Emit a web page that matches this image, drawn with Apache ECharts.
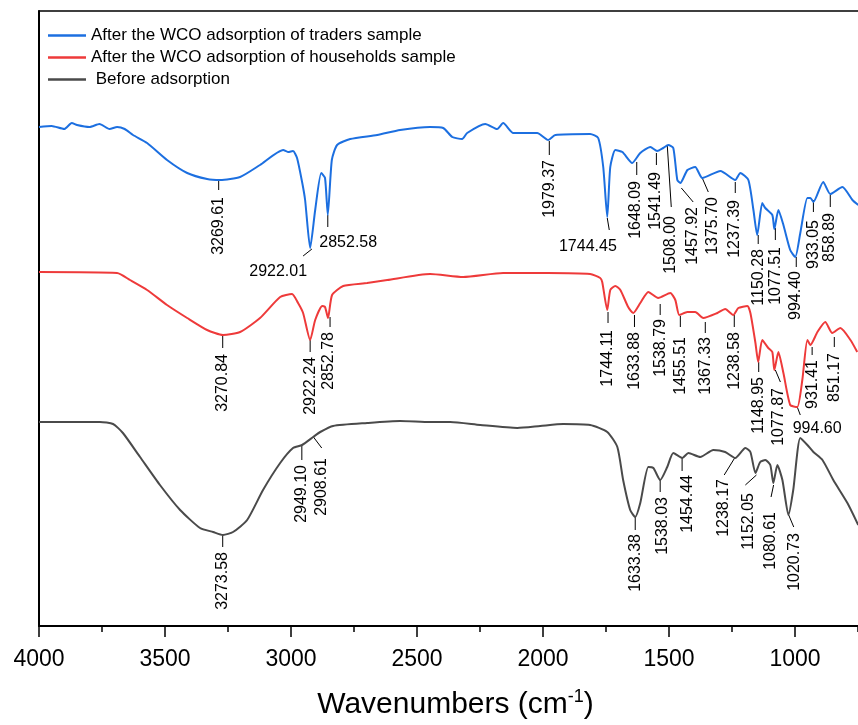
<!DOCTYPE html>
<html>
<head>
<meta charset="utf-8">
<script src="https://cdn.jsdelivr.net/npm/echarts@6/dist/echarts.min.js"></script>
<style>
  html, body { margin: 0; padding: 0; background: #fff; }
  #chart { width: 858px; height: 725px; }
</style>
</head>
<body>
<div id="chart"></div>
<script>
// spectra: [wavenumber, offset transmittance (a.u.)]
const tradersSpectrum = [
  [4000, 499], [3950, 500], [3900, 497], [3870, 503], [3849, 501], [3800, 499], [3760, 502], [3720, 497],
  [3690, 499], [3660, 497], [3627, 491], [3571, 483], [3492, 466], [3412, 453], [3333, 447], [3281, 446],
  [3202, 449], [3123, 461], [3031, 476], [3012, 474], [2992, 475], [2976, 468], [2956, 444], [2944, 426],
  [2924, 378], [2904, 416], [2880, 453], [2865, 448], [2854, 411], [2838, 466], [2817, 481], [2765, 487],
  [2658, 491], [2567, 496], [2448, 499], [2396, 498], [2360, 489], [2321, 487], [2301, 493], [2229, 502],
  [2182, 497], [2158, 503], [2118, 493], [2023, 493], [1979, 486], [1951, 491], [1813, 492], [1781, 488],
  [1761, 459], [1745, 409], [1733, 459], [1713, 476], [1685, 474], [1646, 463], [1614, 473], [1574, 479],
  [1547, 475], [1523, 478], [1503, 481], [1483, 478], [1467, 446], [1455, 443], [1427, 456], [1396, 459],
  [1368, 448], [1296, 455], [1237, 446], [1217, 453], [1185, 446], [1165, 416], [1150, 391], [1130, 423],
  [1118, 418], [1090, 411], [1082, 397], [1066, 416], [1046, 401], [1019, 376], [999, 369], [979, 393],
  [951, 428], [939, 428], [927, 424], [888, 444], [860, 432], [812, 439], [772, 426], [749, 421]
];
const householdsSpectrum = [
  [4000, 354], [3690, 353], [3639, 346], [3571, 336], [3492, 321], [3412, 308], [3333, 296], [3270, 291],
  [3202, 294], [3123, 308], [3043, 329], [2996, 332], [2972, 323], [2952, 313], [2924, 286], [2904, 306],
  [2876, 320], [2865, 319], [2853, 308], [2837, 331], [2793, 340], [2698, 343], [2618, 346], [2448, 352],
  [2317, 349], [2158, 353], [1983, 353], [1813, 352], [1773, 348], [1765, 344], [1745, 316], [1733, 336],
  [1713, 340], [1693, 336], [1662, 319], [1642, 313], [1614, 323], [1582, 334], [1543, 328], [1495, 333],
  [1475, 326], [1459, 311], [1427, 314], [1396, 314], [1364, 308], [1308, 313], [1277, 317], [1245, 311],
  [1225, 318], [1189, 320], [1177, 313], [1157, 283], [1146, 264], [1130, 286], [1106, 278], [1090, 274],
  [1082, 256], [1066, 274], [1046, 253], [1019, 221], [991, 219], [971, 246], [951, 286], [939, 281],
  [911, 294], [880, 304], [852, 293], [820, 298], [780, 286], [753, 274]
];
const beforeSpectrum = [
  [4000, 204], [3758, 204], [3706, 202], [3667, 193], [3599, 169], [3520, 141], [3440, 116], [3361, 98],
  [3309, 94], [3270, 91], [3230, 94], [3174, 106], [3111, 136], [3043, 163], [2992, 178], [2956, 181],
  [2912, 189], [2884, 194], [2833, 200], [2698, 203], [2567, 205], [2448, 204], [2368, 204], [2249, 201],
  [2102, 198], [2011, 200], [1920, 202], [1813, 201], [1745, 194], [1705, 179], [1682, 146], [1654, 116],
  [1634, 109], [1614, 123], [1582, 159], [1562, 158], [1535, 146], [1507, 159], [1483, 173], [1447, 168],
  [1423, 173], [1376, 169], [1324, 176], [1277, 174], [1237, 168], [1197, 178], [1177, 174], [1157, 153],
  [1138, 164], [1118, 166], [1098, 161], [1086, 143], [1070, 161], [1050, 146], [1026, 111], [1007, 136],
  [979, 188], [951, 181], [927, 174], [891, 166], [848, 146], [792, 123], [749, 101]
];

// peak labels: [text, lineX1, lineY1, lineX2, lineY2, textX, textY, rotation]
const tradersPeaks = [
  ['3269.61', 3287, 447, 3287, 436, 3287, 429, 90],
  ['2922.01', 2917, 377, 2952, 370, 3051, 354, 0],
  ['2852.58', 2854, 411, 2854, 399, 2773, 383, 0],
  ['1979.37', 1975, 485, 1975, 471, 1975, 466, 90],
  ['1744.45', 1745, 408, 1737, 396, 1822, 379, 0],
  ['1648.09', 1628, 464, 1628, 451, 1632, 445, 90],
  ['1541.49', 1550, 473, 1550, 461, 1552, 454, 90],
  ['1508.00', 1507, 481, 1491, 419, 1494, 410, 90],
  ['1457.92', 1451, 438, 1404, 424, 1408, 419, 90],
  ['1375.70', 1368, 448, 1344, 434, 1326, 429, 90],
  ['1237.39', 1237, 444, 1237, 433, 1238, 426, 90],
  ['1150.28', 1146, 391, 1146, 382, 1146, 377, 90],
  ['1077.51', 1078, 398, 1078, 386, 1078, 379, 90],
  ['994.40', 995, 369, 995, 359, 997, 355, 90],
  ['933.05', 927, 426, 927, 414, 928, 406, 90],
  ['858.89', 860, 431, 860, 419, 862, 413, 90]
];
const householdsPeaks = [
  ['3270.84', 3271, 291, 3271, 278, 3271, 272, 90],
  ['2922.24', 2924, 286, 2924, 274, 2924, 269, 90],
  ['2852.78', 2845, 309, 2845, 299, 2851, 294, 90],
  ['1744.11', 1742, 314, 1742, 303, 1745, 296, 90],
  ['1633.88', 1637, 311, 1637, 299, 1638, 294, 90],
  ['1538.79', 1535, 322, 1535, 311, 1532, 307, 90],
  ['1455.51', 1455, 310, 1455, 299, 1453, 289, 90],
  ['1367.33', 1356, 304, 1356, 293, 1356, 289, 90],
  ['1238.58', 1241, 311, 1241, 299, 1241, 294, 90],
  ['1148.95', 1144, 264, 1144, 254, 1144, 249, 90],
  ['1077.87', 1078, 256, 1058, 244, 1065, 238, 90],
  ['994.60', 991, 219, 979, 211, 912, 197, 0],
  ['931.41', 932, 279, 932, 271, 930, 266, 90],
  ['851.17', 844, 289, 844, 279, 844, 273, 90]
];
const beforePeaks = [
  ['3273.58', 3271, 91, 3271, 79, 3271, 74, 90],
  ['2949.10', 2957, 181, 2957, 166, 2957, 161, 90],
  ['2908.61', 2911, 189, 2878, 178, 2878, 168, 90],
  ['1633.38', 1634, 109, 1634, 96, 1634, 92, 90],
  ['1538.03', 1535, 146, 1535, 134, 1524, 129, 90],
  ['1454.44', 1448, 168, 1448, 155, 1426, 151, 90],
  ['1238.17', 1237, 169, 1281, 151, 1284, 147, 90],
  ['1152.05', 1153, 151, 1197, 141, 1186, 133, 90],
  ['1080.61', 1085, 141, 1095, 129, 1098, 114, 90],
  ['1020.73', 1025, 111, 1005, 99, 1000, 93, 90]
];

const majorTicks = [4000, 3500, 3000, 2500, 2000, 1500, 1000];
const minorTicks = [3750, 3250, 2750, 2250, 1750, 1250, 750];

const seriesNames = [
  'After the WCO adsorption of traders sample',
  'After the WCO adsorption of households sample',
  ' Before adsorption'
];
const colors = ['#1c6fe0', '#ee3a3a', '#4a4a4a'];

const FONT = 'Liberation Sans, Arial, sans-serif';

function peakSeries(peaks) {
  return {
    type: 'custom',
    xAxisIndex: 0,
    silent: true,
    data: peaks.map(p => p.slice(1)),
    encode: { x: [0, 2, 4], y: [1, 3, 5] },
    renderItem: function (params, api) {
      const p = peaks[params.dataIndex];
      const a = api.coord([p[1], p[2]]);
      const b = api.coord([p[3], p[4]]);
      const t = api.coord([p[5], p[6]]);
      const vertical = p[7] === 90;
      return {
        type: 'group',
        children: [
          { type: 'line', shape: { x1: a[0], y1: a[1], x2: b[0], y2: b[1] },
            style: { stroke: '#000', lineWidth: 1 } },
          { type: 'text', x: t[0], y: t[1], rotation: vertical ? Math.PI / 2 : 0,
            style: { text: p[0], fill: '#000', fontSize: 16, fontFamily: FONT,
                     align: vertical ? 'right' : 'center', verticalAlign: 'middle' } }
        ]
      };
    }
  };
}

const chart = echarts.init(document.getElementById('chart'));

const xBase = { type: 'value', min: 750, max: 4000, inverse: true, splitLine: { show: false } };

chart.setOption({
  backgroundColor: '#fff',
  animation: false,
  color: colors,
  grid: { left: 39, right: 0, top: 11, bottom: 99 },
  legend: {
    orient: 'vertical', left: 48, top: 27, padding: 0,
    icon: 'rect', itemWidth: 38, itemHeight: 2.5, itemGap: 5,
    data: seriesNames,
    textStyle: { fontSize: 17, fontFamily: FONT, color: '#000' }
  },
  xAxis: [
    Object.assign({}, xBase, {
      position: 'bottom',
      name: 'Wavenumbers (cm{sup|-1})',
      nameLocation: 'middle', nameGap: 62,
      nameTextStyle: {
        fontSize: 30, fontFamily: FONT, color: '#000', padding: [0, 0, 0, 14],
        rich: { sup: { fontSize: 18, fontFamily: FONT, color: '#000', padding: [0, 0, 15, 0] } }
      },
      axisLine: { lineStyle: { color: '#000', width: 2 } },
      axisTick: { customValues: majorTicks, length: 11, lineStyle: { color: '#000', width: 1.5 } },
      axisLabel: { customValues: majorTicks, formatter: v => String(v),
                   fontSize: 23, margin: 22, fontFamily: FONT, color: '#000' }
    }),
    Object.assign({}, xBase, {
      position: 'top',
      axisLine: { lineStyle: { color: '#000', width: 1.5 } },
      axisTick: { show: false }, axisLabel: { show: false }
    }),
    Object.assign({}, xBase, {
      position: 'bottom',
      axisLine: { show: false },
      axisTick: { customValues: minorTicks, length: 6, lineStyle: { color: '#000', width: 1.5 } },
      axisLabel: { show: false }
    })
  ],
  yAxis: {
    type: 'value', min: 0, max: 615,
    axisLine: { show: true, lineStyle: { color: '#000', width: 2 } },
    axisTick: { show: false }, axisLabel: { show: false }, splitLine: { show: false }
  },
  series: [
    { name: seriesNames[0], type: 'line', data: tradersSpectrum, symbol: 'none', smooth: 0.2,
      lineStyle: { width: 2 } },
    { name: seriesNames[1], type: 'line', data: householdsSpectrum, symbol: 'none', smooth: 0.2,
      lineStyle: { width: 2 } },
    { name: seriesNames[2], type: 'line', data: beforeSpectrum, symbol: 'none', smooth: 0.2,
      lineStyle: { width: 2 } },
    peakSeries(tradersPeaks),
    peakSeries(householdsPeaks),
    peakSeries(beforePeaks)
  ]
});
</script>
</body>
</html>
